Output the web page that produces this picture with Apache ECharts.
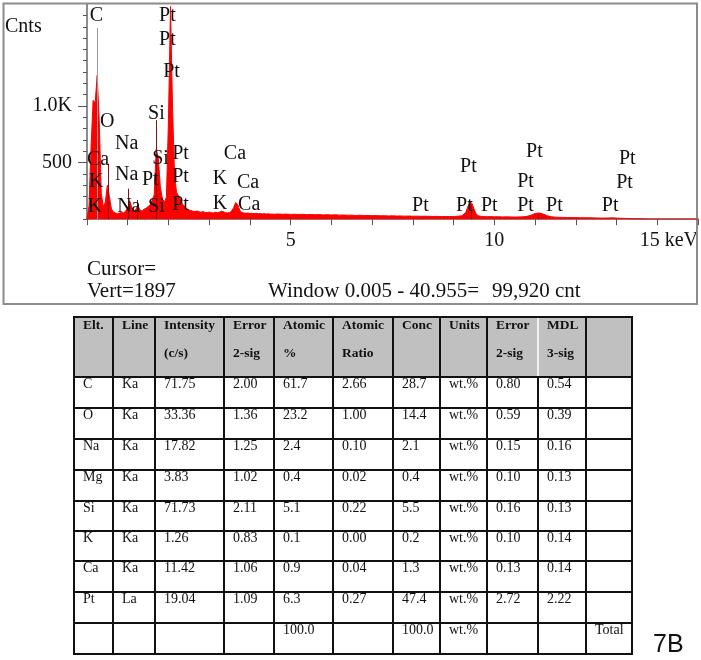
<!DOCTYPE html>
<html>
<head>
<meta charset="utf-8">
<script src="https://cdn.jsdelivr.net/npm/echarts@6/dist/echarts.min.js"></script>
<style>
html,body{margin:0;padding:0;background:#fff;}
#c{width:701px;height:660px;}
</style>
</head>
<body>
<div id="c"></div>
<script>
// ---------- spectrum data (keV, counts) ----------
const spectrum = [
[0,0],[0.05,120],[0.1,640],[0.15,1050],[0.2,1030],[0.25,1270],[0.3,870],[0.35,230],[0.4,110],[0.45,150],
[0.5,300],[0.55,200],[0.6,90],[0.65,62],[0.7,55],[0.75,48],[0.8,54],[0.85,60],[0.9,56],[0.95,72],
[1.0,100],[1.05,160],[1.1,105],[1.15,72],[1.2,88],[1.25,120],[1.3,82],[1.35,72],[1.4,88],[1.45,96],
[1.5,112],[1.55,126],[1.6,168],[1.65,215],[1.7,620],[1.75,540],[1.8,290],[1.85,180],[1.9,150],[1.95,195],
[2.0,880],[2.05,1880],[2.1,990],[2.15,380],[2.2,235],[2.25,205],[2.3,160],[2.35,132],[2.4,112],[2.45,92],
[2.5,82],[2.55,76],[2.6,70],[2.65,68],[2.7,73],[2.75,65],[2.8,62],[2.85,67],[2.9,60],[2.95,58],
[3.0,63],[3.05,58],[3.1,55],[3.15,61],[3.2,57],[3.25,62],[3.3,70],[3.35,66],[3.4,58],[3.45,55],
[3.5,59],[3.55,72],[3.6,102],[3.65,148],[3.7,128],[3.75,80],[3.8,60],[3.85,55],[3.9,52],[3.95,55],
[4.0,50],[4.05,53],[4.1,49],[4.15,52],[4.2,48],[4.25,50],[4.3,47],[4.35,49],[4.4,46],[4.45,48],[4.5,45],
[4.6,44],[4.7,46],[4.8,43],[4.9,45],[5.0,42],[5.1,44],[5.2,41],[5.3,43],[5.4,40],[5.5,42],
[5.6,39],[5.7,41],[5.8,38],[5.9,40],[6.0,37],[6.1,39],[6.2,36],[6.3,37],[6.4,35],[6.5,36],
[6.6,33],[6.7,35],[6.8,32],[6.9,33],[7.0,31],[7.1,32],[7.2,30],[7.3,31],[7.4,29],[7.5,30],
[7.6,28],[7.7,29],[7.8,27],[7.9,28],[8.0,26],[8.1,27],[8.2,25],[8.3,26],[8.4,25],[8.5,24],
[8.6,25],[8.7,23],[8.8,24],[8.9,23],[9.0,24],[9.1,26],[9.2,30],[9.3,60],[9.35,110],[9.4,150],
[9.45,140],[9.5,90],[9.55,50],[9.6,30],[9.7,24],[9.8,22],[9.9,23],[10.0,21],[10.1,22],[10.2,20],
[10.3,21],[10.4,20],[10.5,19],[10.6,20],[10.7,21],[10.8,25],[10.9,35],[11.0,50],[11.1,55],[11.2,45],
[11.3,30],[11.4,22],[11.5,18],[11.6,17],[11.7,16],[11.8,15],[11.9,15],[12.0,14],[12.1,13],[12.2,13],
[12.3,12],[12.4,12],[12.5,11],[12.6,10],[12.7,10],[12.8,11],[12.9,12],[13.0,10],[13.1,8],[13.2,7],
[13.3,6],[13.4,5],[13.5,4],[13.6,3],[13.7,2],[13.8,0],[14.5,0],[15,0]
];

// element marker lines
const markerKeV    = [0.25, 0.52, 1.02, 1.24, 1.71, 9.44, 11.07];
const markerTop    = [1690, 490, 270, 170, 875, 125, 45];
const markerColor  = ['#9a9a9a', '#8a1010', '#8a1010', '#8a1010', '#8a1010', '#8a1010', '#8a1010'];

// element labels (keV, counts)
const labelText   = ['C','Pt','Pt','Pt','Si','O','Na','Si','Pt','Ca','Ca','K','Na','Pt','Pt','K','Ca','K','Na','Si','Pt','K','Ca','Pt','Pt','Pt','Pt','Pt','Pt','Pt','Pt','Pt','Pt','Pt'];
const labelKeV    = [0.07,1.77,1.77,1.87,1.50,0.32,0.69,1.60,2.09,0.00,3.36,0.05,0.69,1.35,2.09,3.09,3.68,0.02,0.74,1.50,2.09,3.09,3.71,7.98,9.16,9.06,9.67,10.78,10.56,10.56,11.27,13.06,12.99,12.64];
const labelCounts = [1802,1802,1583,1300,935,861,664,538,582,523,582,331,390,346,375,361,322,110,110,110,125,140,125,117,461,117,117,594,329,117,117,532,320,117];

const xTickLabels = {5:'5', 10:'10', 15:'15 keV'};
const yTickLabels = {500:'500', 1000:'1.0K'};
const yMax = 1897;
const cursorText = ['Cursor=', 'Vert=1897', 'Window 0.005 - 40.955=', '99,920 cnt'];

// ---------- table data ----------
const headLine1 = ['Elt.','Line','Intensity','Error','Atomic','Atomic','Conc','Units','Error','MDL',''];
const headLine2 = ['','','(c/s)','2-sig','%','Ratio','','','2-sig','3-sig',''];
const elts      = ['C','O','Na','Mg','Si','K','Ca','Pt',''];
const lines     = ['Ka','Ka','Ka','Ka','Ka','Ka','Ka','La',''];
const intensity = ['71.75','33.36','17.82','3.83','71.73','1.26','11.42','19.04',''];
const error1    = ['2.00','1.36','1.25','1.02','2.11','0.83','1.06','1.09',''];
const atomicPct = ['61.7','23.2','2.4','0.4','5.1','0.1','0.9','6.3','100.0'];
const atomicRat = ['2.66','1.00','0.10','0.02','0.22','0.00','0.04','0.27',''];
const conc      = ['28.7','14.4','2.1','0.4','5.5','0.2','1.3','47.4','100.0'];
const units     = ['wt.%','wt.%','wt.%','wt.%','wt.%','wt.%','wt.%','wt.%','wt.%'];
const error2    = ['0.80','0.59','0.15','0.10','0.16','0.10','0.13','2.72',''];
const mdl       = ['0.54','0.39','0.16','0.13','0.13','0.14','0.14','2.22',''];
const lastCol   = ['','','','','','','','','Total'];
const figLabel  = '7B';

// ---------- layout ----------
const SERIF = '"Liberation Serif","Times New Roman",serif';
const colX = [74, 113, 155, 224, 274, 333, 393, 440, 487, 538, 586, 632];
const rowY = [317, 377, 408, 439, 470, 501, 531, 561, 592, 623, 654];

const chart = echarts.init(document.getElementById('c'), null, {renderer:'canvas'});

const graphics = [];
// outer spectrum box
graphics.push({type:'rect', shape:{x:3.5, y:3.5, width:693.5, height:300.5}, style:{fill:'none', stroke:'#8c8c8c', lineWidth:2}, z:1, silent:true});
function txt(x, y, s, opt) {
  opt = opt || {};
  graphics.push({type:'text', x:x, y:y, z:10, silent:true, style:{
    text:s, fill:opt.fill || '#111', align:opt.align || 'left', verticalAlign:'middle',
    fontFamily:opt.family || SERIF, fontSize:opt.size || 20, fontWeight:opt.weight || 'normal'}});
}
txt(5, 26.5, 'Cnts');
txt(87, 269, cursorText[0], {size:21});
txt(87, 291, cursorText[1], {size:21});
txt(268, 291, cursorText[2], {size:21});
txt(492, 291, cursorText[3], {size:21});

// table
graphics.push({type:'rect', shape:{x:colX[0], y:rowY[0], width:colX[colX.length-1]-colX[0], height:rowY[1]-rowY[0]}, style:{fill:'#c0c0c0'}, silent:true, z:2});
for (let i = 0; i < rowY.length; i++) {
  graphics.push({type:'line', shape:{x1:colX[0]-1, y1:rowY[i], x2:colX[colX.length-1]+1, y2:rowY[i]}, style:{stroke:'#111', lineWidth:2}, silent:true, z:3});
}
for (let j = 0; j < colX.length; j++) {
  graphics.push({type:'line', shape:{x1:colX[j], y1:rowY[0], x2:colX[j], y2:rowY[rowY.length-1]}, style:{stroke:'#111', lineWidth:2}, silent:true, z:3});
}
graphics.push({type:'line', shape:{x1:colX[9], y1:rowY[0]+1, x2:colX[9], y2:rowY[1]-1}, style:{stroke:'#f2f2f2', lineWidth:2}, silent:true, z:4});

const tableCols = [elts, lines, intensity, error1, atomicPct, atomicRat, conc, units, error2, mdl, lastCol];
for (let j = 0; j < tableCols.length; j++) {
  txt(colX[j] + 9, rowY[0] + 8.5, headLine1[j], {size:13.5, weight:'bold', fill:'#111'});
  if (headLine2[j]) txt(colX[j] + 9, rowY[0] + 36.5, headLine2[j], {size:13.5, weight:'bold', fill:'#111'});
  for (let i = 0; i < tableCols[j].length; i++) {
    if (tableCols[j][i]) txt(colX[j] + 9, rowY[i+1] + 7, tableCols[j][i], {size:14, fill:'#111'});
  }
}
txt(653, 645, figLabel, {size:25, family:'"Liberation Sans",Arial,sans-serif', fill:'#111'});

const labelData = labelText.map((t, i) => ({name:t, value:[labelKeV[i], labelCounts[i]]}));
const markData = markerKeV.map((e, i) => [
  {coord:[e, 0], lineStyle:{color:markerColor[i], width:1, type:'solid'}},
  {coord:[e, markerTop[i]]}
]);

const option = {
  animation:false,
  backgroundColor:'#fff',
  grid:{left:87, right:3, top:4.5, bottom:440.8, containLabel:false, outerBoundsMode:'none'},
  xAxis:{
    type:'value', min:0, max:15, interval:1,
    axisLine:{show:true, onZero:false, lineStyle:{color:'#666', width:1.5}},
    axisTick:{show:true, length:6, lineStyle:{color:'#555', width:1}},
    splitLine:{show:false},
    axisLabel:{
      show:true, margin:12, color:'#111', fontFamily:SERIF, fontSize:20,
      alignMaxLabel:'right',
      formatter:function(v){ return xTickLabels[Math.round(v)] !== undefined && Math.abs(v-Math.round(v))<1e-6 ? xTickLabels[Math.round(v)] : ''; }
    }
  },
  yAxis:[{
    type:'value', position:'left', min:0, max:yMax, interval:100,
    axisLine:{show:true, onZero:false, lineStyle:{color:'#666', width:1.5}},
    axisTick:{show:true, length:4, lineStyle:{color:'#555', width:1}},
    splitLine:{show:false},
    axisLabel:{
      show:true, margin:15, color:'#111', fontFamily:SERIF, fontSize:20, showMaxLabel:false,
      formatter:function(v){ return yTickLabels[Math.round(v)] || ''; }
    }
  },{
    type:'value', position:'left', min:0, max:yMax, interval:500, offset:0,
    axisLine:{show:false}, splitLine:{show:false}, axisLabel:{show:false},
    axisTick:{show:true, length:9, customValues:[500, 1000], lineStyle:{color:'#555', width:1}}
  }],
  series:[{
    type:'line', data:spectrum, symbol:'none', smooth:false,
    lineStyle:{color:'#ff0000', width:1}, areaStyle:{color:'#ff0000', opacity:1},
    z:2, silent:true,
    markLine:{symbol:['none','none'], silent:true, animation:false, label:{show:false}, data:markData}
  },{
    type:'scatter', data:labelData, symbolSize:0, z:5, silent:true,
    itemStyle:{opacity:1},
    label:{show:true, formatter:'{b}', position:'right', distance:0, color:'#111', opacity:1, fontFamily:SERIF, fontSize:20}
  }],
  graphic:graphics
};
chart.setOption(option);
</script>
</body>
</html>
